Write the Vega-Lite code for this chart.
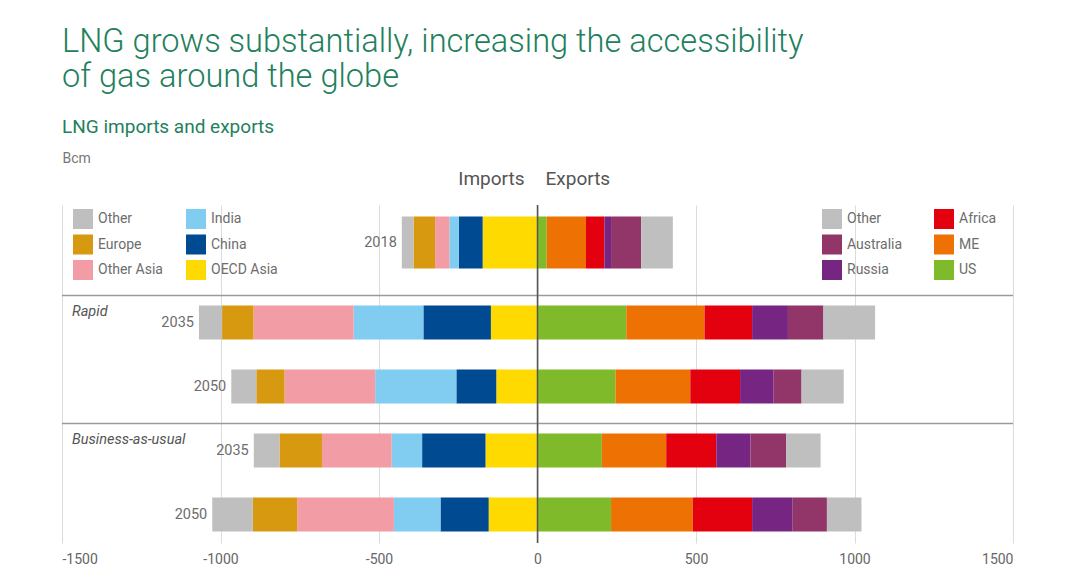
{
  "$schema": "https://vega.github.io/schema/vega-lite/v6.json",
  "width": 951,
  "height": 338,
  "autosize": {"type": "none"},
  "padding": {"left": 62, "top": 205, "right": 67, "bottom": 41},
  "background": "white",
  "config": {
    "font": "Roboto",
    "view": {"stroke": null},
    "axisX": {"grid": true, "gridColor": "#dcdcdc", "gridWidth": 1, "ticks": false, "domain": false, "labelPadding": 9, "labelFontSize": 14, "labelColor": "#666666"},
    "axisY": {"labels": false, "ticks": false, "domain": false, "grid": false, "titleAngle": 0, "titleX": 0, "titleY": -47, "titleAlign": "left", "titleBaseline": "middle", "titleFontSize": 14, "titleFontWeight": "normal", "titleColor": "#777777"},
    "legend": {"symbolType": "square", "symbolSize": 400, "symbolStrokeWidth": 0, "labelFontSize": 14, "labelColor": "#6d6d6d", "labelOffset": 5, "rowPadding": 5.5, "padding": 0, "title": null}
  },
  "title": {
    "text": ["LNG grows substantially, increasing the accessibility", "of gas around the globe"],
    "subtitle": "LNG imports and exports",
    "anchor": "start",
    "frame": "group",
    "fontSize": 32.6,
    "fontWeight": 300,
    "color": "#23805d",
    "lineHeight": 35,
    "subtitleFontSize": 19,
    "subtitleColor": "#23805d",
    "subtitleFontWeight": "normal",
    "subtitlePadding": 24,
    "offset": 14
  },
  "datasets": {
    "lng": [
      {"row": "2018", "year": "2018", "side": "Imports", "region": "OECD Asia", "value": -173},
      {"row": "2018", "year": "2018", "side": "Imports", "region": "China", "value": -75},
      {"row": "2018", "year": "2018", "side": "Imports", "region": "India", "value": -30},
      {"row": "2018", "year": "2018", "side": "Imports", "region": "Other Asia", "value": -45},
      {"row": "2018", "year": "2018", "side": "Imports", "region": "Europe", "value": -68},
      {"row": "2018", "year": "2018", "side": "Imports", "region": "Other", "value": -37},
      {"row": "Rapid 2035", "year": "2035", "side": "Imports", "region": "OECD Asia", "value": -147},
      {"row": "Rapid 2035", "year": "2035", "side": "Imports", "region": "China", "value": -213},
      {"row": "Rapid 2035", "year": "2035", "side": "Imports", "region": "India", "value": -220},
      {"row": "Rapid 2035", "year": "2035", "side": "Imports", "region": "Other Asia", "value": -316},
      {"row": "Rapid 2035", "year": "2035", "side": "Imports", "region": "Europe", "value": -99},
      {"row": "Rapid 2035", "year": "2035", "side": "Imports", "region": "Other", "value": -73},
      {"row": "Rapid 2050", "year": "2050", "side": "Imports", "region": "OECD Asia", "value": -130},
      {"row": "Rapid 2050", "year": "2050", "side": "Imports", "region": "China", "value": -126},
      {"row": "Rapid 2050", "year": "2050", "side": "Imports", "region": "India", "value": -256},
      {"row": "Rapid 2050", "year": "2050", "side": "Imports", "region": "Other Asia", "value": -286},
      {"row": "Rapid 2050", "year": "2050", "side": "Imports", "region": "Europe", "value": -89},
      {"row": "Rapid 2050", "year": "2050", "side": "Imports", "region": "Other", "value": -79},
      {"row": "BAU 2035", "year": "2035", "side": "Imports", "region": "OECD Asia", "value": -164},
      {"row": "BAU 2035", "year": "2035", "side": "Imports", "region": "China", "value": -200},
      {"row": "BAU 2035", "year": "2035", "side": "Imports", "region": "India", "value": -96},
      {"row": "BAU 2035", "year": "2035", "side": "Imports", "region": "Other Asia", "value": -220},
      {"row": "BAU 2035", "year": "2035", "side": "Imports", "region": "Europe", "value": -134},
      {"row": "BAU 2035", "year": "2035", "side": "Imports", "region": "Other", "value": -81},
      {"row": "BAU 2050", "year": "2050", "side": "Imports", "region": "OECD Asia", "value": -154},
      {"row": "BAU 2050", "year": "2050", "side": "Imports", "region": "China", "value": -152},
      {"row": "BAU 2050", "year": "2050", "side": "Imports", "region": "India", "value": -147},
      {"row": "BAU 2050", "year": "2050", "side": "Imports", "region": "Other Asia", "value": -305},
      {"row": "BAU 2050", "year": "2050", "side": "Imports", "region": "Europe", "value": -140},
      {"row": "BAU 2050", "year": "2050", "side": "Imports", "region": "Other", "value": -128},
      {"row": "2018", "year": "2018", "side": "Exports", "region": "US", "value": 29},
      {"row": "2018", "year": "2018", "side": "Exports", "region": "ME", "value": 124},
      {"row": "2018", "year": "2018", "side": "Exports", "region": "Africa", "value": 58},
      {"row": "2018", "year": "2018", "side": "Exports", "region": "Russia", "value": 21},
      {"row": "2018", "year": "2018", "side": "Exports", "region": "Australia", "value": 95},
      {"row": "2018", "year": "2018", "side": "Exports", "region": "Other", "value": 100},
      {"row": "Rapid 2035", "year": "2035", "side": "Exports", "region": "US", "value": 280},
      {"row": "Rapid 2035", "year": "2035", "side": "Exports", "region": "ME", "value": 247},
      {"row": "Rapid 2035", "year": "2035", "side": "Exports", "region": "Africa", "value": 150},
      {"row": "Rapid 2035", "year": "2035", "side": "Exports", "region": "Russia", "value": 113},
      {"row": "Rapid 2035", "year": "2035", "side": "Exports", "region": "Australia", "value": 112},
      {"row": "Rapid 2035", "year": "2035", "side": "Exports", "region": "Other", "value": 163},
      {"row": "Rapid 2050", "year": "2050", "side": "Exports", "region": "US", "value": 246},
      {"row": "Rapid 2050", "year": "2050", "side": "Exports", "region": "ME", "value": 236},
      {"row": "Rapid 2050", "year": "2050", "side": "Exports", "region": "Africa", "value": 157},
      {"row": "Rapid 2050", "year": "2050", "side": "Exports", "region": "Russia", "value": 106},
      {"row": "Rapid 2050", "year": "2050", "side": "Exports", "region": "Australia", "value": 88},
      {"row": "Rapid 2050", "year": "2050", "side": "Exports", "region": "Other", "value": 133},
      {"row": "BAU 2035", "year": "2035", "side": "Exports", "region": "US", "value": 203},
      {"row": "BAU 2035", "year": "2035", "side": "Exports", "region": "ME", "value": 203},
      {"row": "BAU 2035", "year": "2035", "side": "Exports", "region": "Africa", "value": 158},
      {"row": "BAU 2035", "year": "2035", "side": "Exports", "region": "Russia", "value": 108},
      {"row": "BAU 2035", "year": "2035", "side": "Exports", "region": "Australia", "value": 112},
      {"row": "BAU 2035", "year": "2035", "side": "Exports", "region": "Other", "value": 109},
      {"row": "BAU 2050", "year": "2050", "side": "Exports", "region": "US", "value": 232},
      {"row": "BAU 2050", "year": "2050", "side": "Exports", "region": "ME", "value": 258},
      {"row": "BAU 2050", "year": "2050", "side": "Exports", "region": "Africa", "value": 187},
      {"row": "BAU 2050", "year": "2050", "side": "Exports", "region": "Russia", "value": 128},
      {"row": "BAU 2050", "year": "2050", "side": "Exports", "region": "Australia", "value": 108},
      {"row": "BAU 2050", "year": "2050", "side": "Exports", "region": "Other", "value": 109}
    ],
    "groups": [
      {"group": "Rapid", "row": "Rapid 2035"},
      {"group": "Business-as-usual", "row": "BAU 2035"}
    ]
  },
  "data": {"name": "lng"},
  "transform": [{"window": [{"op": "row_number", "as": "idx"}]}],
  "layer": [
    {
      "transform": [{"filter": "datum.side === 'Imports'"}],
      "encoding": {
        "x": {"field": "value", "type": "quantitative", "stack": "zero", "title": null, "scale": {"domain": [-1500, 1500], "nice": false, "zero": false}, "axis": {"values": [-1500, -1000, -500, 0, 500, 1000, 1500], "labelExpr": "'' + datum.value"}},
        "y": {"field": "row", "type": "nominal", "title": "Bcm", "scale": {"domain": ["_t", "2018", "_a1", "_a2", "_a3", "_a4", "Rapid 2035", "_b1", "_b2", "_b3", "Rapid 2050", "_c1", "_c2", "_c3", "BAU 2035", "_d1", "_d2", "_d3", "BAU 2050", "_z"], "paddingInner": 0, "paddingOuter": 0.5625, "align": 0.75}},
        "color": {"field": "region", "type": "nominal", "scale": {"domain": ["Other", "Europe", "Other Asia", "India", "China", "OECD Asia"], "range": ["#bfbfbf", "#d6990f", "#f29ca6", "#80cdf1", "#004a92", "#ffda00"]}, "legend": {"orient": "none", "legendX": 11, "legendY": 4, "columns": 2, "columnPadding": 23}},
        "order": {"field": "idx", "type": "quantitative"}
      },
      "layer": [
        {"transform": [{"filter": "datum.row === '2018'"}], "mark": {"type": "bar", "size": 52}},
        {"transform": [{"filter": "datum.row !== '2018'"}], "mark": {"type": "bar", "size": 34}}
      ]
    },
    {
      "transform": [{"filter": "datum.side === 'Exports'"}],
      "encoding": {
        "x": {"field": "value", "type": "quantitative", "stack": "zero", "title": null},
        "y": {"field": "row", "type": "nominal", "title": "Bcm"},
        "color": {"field": "region", "type": "nominal", "scale": {"domain": ["Other", "Australia", "Russia", "Africa", "ME", "US"], "range": ["#bfbfbf", "#923568", "#772583", "#e3000f", "#ee7203", "#7fba2a"]}, "legend": {"orient": "none", "legendX": 760, "legendY": 4, "columns": 2, "columnPadding": 31}},
        "order": {"field": "idx", "type": "quantitative"}
      },
      "layer": [
        {"transform": [{"filter": "datum.row === '2018'"}], "mark": {"type": "bar", "size": 52}},
        {"transform": [{"filter": "datum.row !== '2018'"}], "mark": {"type": "bar", "size": 34}}
      ]
    },
    {
      "transform": [
        {"filter": "datum.side === 'Imports'"},
        {"aggregate": [{"op": "sum", "field": "value", "as": "total"}], "groupby": ["row", "year"]}
      ],
      "mark": {"type": "text", "align": "right", "baseline": "middle", "dx": -5, "fontSize": 14.5, "color": "#6d6d6d"},
      "encoding": {
        "x": {"field": "total", "type": "quantitative", "title": null},
        "y": {"field": "row", "type": "nominal", "title": "Bcm"},
        "text": {"field": "year"}
      }
    },
    {
      "data": {"name": "groups"},
      "mark": {"type": "rule", "color": "#9a9a9a", "strokeWidth": 1.5, "yOffset": -27},
      "encoding": {
        "x": {"datum": -1500, "type": "quantitative", "title": null},
        "x2": {"datum": 1500},
        "y": {"field": "row", "type": "nominal", "title": "Bcm"}
      }
    },
    {
      "data": {"name": "groups"},
      "mark": {"type": "text", "align": "left", "baseline": "middle", "dx": 10, "yOffset": -11, "fontSize": 14.5, "fontStyle": "italic", "color": "#555555"},
      "encoding": {
        "x": {"datum": -1500, "type": "quantitative", "title": null},
        "y": {"field": "row", "type": "nominal", "title": "Bcm"},
        "text": {"field": "group"}
      }
    },
    {
      "data": {"values": [{"row": "2018", "v": 0}]},
      "mark": {"type": "rule", "color": "#555555", "strokeWidth": 1.5},
      "encoding": {
        "x": {"field": "v", "type": "quantitative", "title": null}
      }
    },
    {
      "data": {"values": [{"row": "2018", "v": 0, "t": "Imports"}]},
      "mark": {"type": "text", "align": "right", "baseline": "middle", "dx": -13, "yOffset": -64, "fontSize": 19, "color": "#555555"},
      "encoding": {
        "x": {"field": "v", "type": "quantitative", "title": null},
        "y": {"field": "row", "type": "nominal", "title": "Bcm"},
        "text": {"field": "t"}
      }
    },
    {
      "data": {"values": [{"row": "2018", "v": 0, "t": "Exports"}]},
      "mark": {"type": "text", "align": "left", "baseline": "middle", "dx": 8, "yOffset": -64, "fontSize": 19, "color": "#555555"},
      "encoding": {
        "x": {"field": "v", "type": "quantitative", "title": null},
        "y": {"field": "row", "type": "nominal", "title": "Bcm"},
        "text": {"field": "t"}
      }
    }
  ],
  "resolve": {"scale": {"color": "independent"}}
}
